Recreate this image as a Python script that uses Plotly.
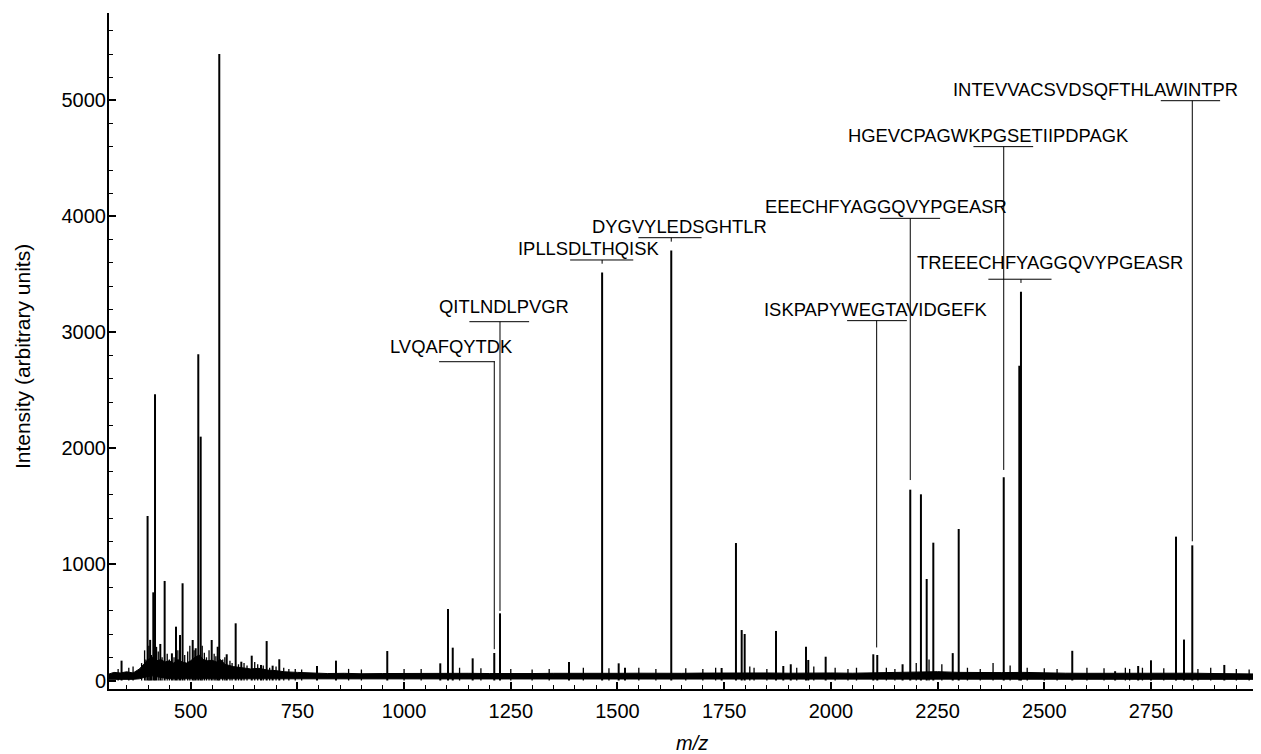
import plotly.graph_objects as go

# ---------------- data ----------------
# main peaks (m/z, intensity)
peak_mz = [338, 399, 405, 412.4, 416.4, 428.8, 439, 456, 465.6, 475, 481, 504.7, 511.7,
           517.8, 523.4, 549.2, 563.3, 567, 584.4, 605.4, 618.6, 643, 664.7, 678, 692,
           707.6, 796, 840.4, 960.6, 1084.8, 1102.9, 1114, 1160.7, 1211.3, 1224.7, 1386.4,
           1464, 1502.8, 1517.6, 1626, 1744, 1777.6, 1791, 1798, 1871.4, 1888.5, 1906,
           1941.7, 1947, 1987.8, 2099.4, 2108.7, 2168, 2186, 2211, 2224.5, 2240, 2285.5,
           2299.5, 2405, 2441.5, 2445.4, 2565.6, 2666, 2720, 2750, 2808.6, 2827.4, 2846.8,
           2921.8]
peak_int = [171, 1418, 350, 760, 2467, 315, 858, 234, 464, 392, 838, 349, 278,
            2812, 2102, 349, 291, 5400, 226, 493, 162, 214, 134, 340, 128,
            183, 125, 171, 254, 148, 616, 283, 191, 237, 579, 160,
            3516, 148, 110, 3707, 108, 1185, 435, 401, 427, 125, 140,
            291, 177, 205, 226, 220, 140, 1645, 1605, 875, 1188, 236,
            1306, 1752, 2714, 3352, 256, 80, 125, 174, 1240, 353, 1165,
            134]

# small "grass" peaks sitting on the noise
grass_mz = [330, 355, 365, 385, 392, 395, 402, 408, 420, 424, 433, 445, 450, 461, 470, 486,
            493, 498, 508, 527, 532, 537, 543, 555, 559, 575, 580, 592, 597, 612, 625, 632,
            650, 657, 670, 685, 700, 718, 730, 745, 760, 870, 900, 1000, 1040, 1130, 1180,
            1250, 1300, 1340, 1420, 1480, 1550, 1590, 1660, 1700, 1730, 1810, 1820, 1850,
            1920, 1960, 2010, 2040, 2060, 2130, 2150, 2200, 2230, 2260, 2320, 2350, 2380,
            2420, 2460, 2500, 2530, 2600, 2640, 2690, 2700, 2730, 2780, 2860, 2890, 2950, 2980]
grass_int = [100, 110, 120, 150, 260, 180, 300, 220, 290, 250, 200, 230, 180, 200, 260, 220,
             250, 300, 260, 300, 240, 200, 260, 230, 210, 180, 200, 170, 150, 140, 150, 130,
             160, 140, 130, 110, 120, 110, 100, 100, 95, 100, 95, 100, 100, 110, 105,
             100, 95, 100, 110, 105, 110, 100, 105, 100, 110, 120, 110, 100,
             110, 120, 110, 100, 110, 110, 100, 150, 180, 140, 110, 100, 150,
             130, 110, 105, 100, 110, 105, 110, 100, 110, 105, 100, 110, 100, 95]

# noise band envelope
band_mz = [308, 320, 335, 350, 365, 380, 390, 400, 410, 420, 430, 440, 450, 460, 470, 480,
           490, 500, 510, 520, 530, 540, 550, 560, 570, 580, 590, 600, 620, 640, 660, 680,
           700, 720, 750, 780, 820, 860, 900, 950, 1000, 1050, 1100, 1150, 1200, 1250, 1300,
           1350, 1400, 1450, 1500, 1550, 1600, 1650, 1700, 1750, 1800, 1850, 1900, 1950,
           2000, 2050, 2100, 2150, 2200, 2250, 2300, 2350, 2400, 2450, 2500, 2550, 2600,
           2650, 2700, 2750, 2800, 2850, 2900, 2950, 3008]
band_top = [55, 70, 65, 75, 65, 100, 140, 180, 200, 170, 180, 160, 170, 150, 180, 160,
            150, 170, 200, 220, 180, 170, 175, 160, 180, 140, 130, 120, 110, 100, 105, 90,
            85, 75, 70, 65, 60, 62, 58, 60, 62, 60, 64, 62, 60, 63, 60,
            62, 60, 64, 62, 63, 60, 62, 64, 66, 68, 65, 63, 66,
            65, 63, 66, 68, 72, 76, 70, 66, 68, 70, 65, 63, 62,
            63, 64, 62, 65, 63, 60, 58, 56]
band_low = [10, 10, 10, 10, 10, 15, 25, 35, 40, 35, 25, 20, 15, 15, 15, 15,
            15, 15, 15, 15, 15, 15, 15, 15, 15, 15, 15, 10, 10, 10, 10, 10,
            10, 10, 10, 10, 10, 10, 10, 10, 10, 10, 10, 10, 10, 10, 10,
            10, 10, 10, 10, 10, 10, 10, 10, 10, 10, 10, 10, 10,
            10, 10, 10, 10, 10, 10, 10, 10, 10, 10, 10, 10, 10,
            10, 10, 10, 10, 10, 10, 10, 10]

x_ticks = [500, 750, 1000, 1250, 1500, 1750, 2000, 2250, 2500, 2750]
y_ticks = [0, 1000, 2000, 3000, 4000, 5000]

# peptide labels: text, peak m/z, text left, text y, bar left, bar right, bar y, line end
peptides = [
    ("LVQAFQYTDK", 1211.3, 965, 2877, 1082, 1213, 2748, 270),
    ("QITLNDLPVGR", 1224.7, 1079, 3222, 1153, 1293, 3093, 600),
    ("IPLLSDLTHQISK", 1464, 1264, 3726, 1389, 1537, 3625, 3593),
    ("DYGVYLEDSGHTLR", 1626, 1437, 3912, 1549, 1697, 3817, 3783),
    ("ISKPAPYWEGTAVIDGEFK", 2107.3, 1842, 3194, 2038, 2178, 3102, 285),
    ("EEECHFYAGGQVYPGEASR", 2186, 1843, 4084, 2115, 2256, 3984, 1728),
    ("TREEECHFYAGGQVYPGEASR", 2445.4, 2199, 3602, 2369, 2517, 3459, 3427),
    ("HGEVCPAGWKPGSETIIPDPAGK", 2405, 2038, 4694, 2334, 2474, 4602, 1815),
    ("INTEVVACSVDSQFTHLAWINTPR", 2846.8, 2284, 5091, 2773, 2912, 4998, 1200),
]

# ---------------- figure ----------------
FONT = "Liberation Sans, Arial, sans-serif"
fig = go.Figure()

# noise band polygon
fig.add_trace(go.Scatter(
    x=band_mz + band_mz[::-1], y=band_top + band_low[::-1],
    fill="toself", fillcolor="black", mode="lines",
    line=dict(color="black", width=1), hoverinfo="skip", showlegend=False))

def sticks(mz, h):
    xs, ys = [], []
    for m, v in zip(mz, h):
        xs += [m, m, None]
        ys += [0, v, None]
    return xs, ys

gx, gy = sticks(grass_mz, grass_int)
fig.add_trace(go.Scatter(x=gx, y=gy, mode="lines",
                         line=dict(color="black", width=1.3),
                         hoverinfo="skip", showlegend=False))
px_, py_ = sticks(peak_mz, peak_int)
fig.add_trace(go.Scatter(x=px_, y=py_, mode="lines",
                         line=dict(color="black", width=2),
                         hoverinfo="skip", showlegend=False))

# peptide annotation lines & labels
lx, ly = [], []
for name, pmz, tx, ty, b0, b1, by, le in peptides:
    lx += [b0, b1, None, pmz, pmz, None]
    ly += [by, by, None, by, le, None]
    fig.add_annotation(x=tx, y=ty, text=name, showarrow=False,
                       xanchor="left", yanchor="middle", borderpad=0,
                       font=dict(family=FONT, size=18.4, color="black"))
fig.add_trace(go.Scatter(x=lx, y=ly, mode="lines",
                         line=dict(color="black", width=1),
                         hoverinfo="skip", showlegend=False))

# axis titles
fig.add_annotation(x=0.506, y=-0.08, xref="paper", yref="paper",
                   text="<i>m/z</i>", showarrow=False,
                   xanchor="center", yanchor="middle",
                   font=dict(family=FONT, size=20, color="black"))
fig.add_annotation(x=-0.0755, y=0.491, xref="paper", yref="paper",
                   text="Intensity (arbitrary units)", showarrow=False,
                   textangle=-90, xanchor="center", yanchor="middle",
                   font=dict(family=FONT, size=21, color="black"))

axis_font = dict(family=FONT, size=20, color="black")

# the page adds an 8 px body margin, so the figure is 8 px smaller and margins shifted
fig.update_layout(
    width=1253, height=746,
    margin=dict(l=101, r=0, t=5, b=65, autoexpand=False),
    paper_bgcolor="white", plot_bgcolor="white",
    showlegend=False,
    font=axis_font,
    xaxis=dict(
        range=[308.6, 3007.8], tickmode="array", tickvals=x_ticks,
        ticks="inside", ticklen=7, tickwidth=1.5, tickcolor="black",
        minor=dict(dtick=50, tick0=0, ticks="inside", ticklen=4,
                   tickwidth=1.2, tickcolor="black"),
        showline=True, linecolor="black", linewidth=2,
        showgrid=False, zeroline=False, tickfont=axis_font,
        automargin=False, ticklabelstandoff=3,
    ),
    yaxis=dict(
        range=[-73.3, 5754], tickmode="array", tickvals=y_ticks,
        ticks="inside", ticklen=7, tickwidth=1.5, tickcolor="black",
        minor=dict(dtick=200, tick0=0, ticks="inside", ticklen=4,
                   tickwidth=1.2, tickcolor="black"),
        showline=True, linecolor="black", linewidth=2,
        showgrid=False, zeroline=False, tickfont=axis_font,
        automargin=False, ticklabelstandoff=-3,
    ),
)

fig.write_html("out.html")
